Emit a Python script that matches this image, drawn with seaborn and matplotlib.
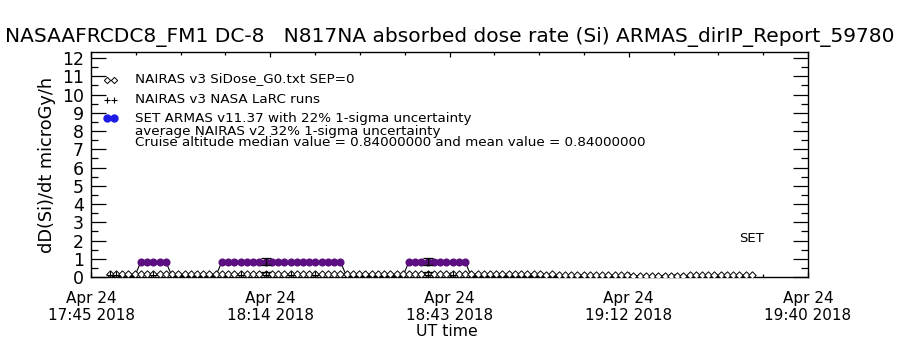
import matplotlib
matplotlib.use("Agg")
import matplotlib.pyplot as plt
import numpy as np
import pandas as pd
import seaborn as sns
from matplotlib.ticker import FixedLocator

# ---------------- data (minutes after 17:45 UT, microGy/h) ----------------
title = "NASAAFRCDC8_FM1 DC-8   N817NA absorbed dose rate (Si) ARMAS_dirIP_Report_59780"
y_label = "dD(Si)/dt microGy/h"
x_label = "UT time"
x_tick_minutes = [0, 28.75, 57.5, 86.25, 115]
x_tick_labels = ["Apr 24\n17:45 2018", "Apr 24\n18:14 2018", "Apr 24\n18:43 2018",
                 "Apr 24\n19:12 2018", "Apr 24\n19:40 2018"]
y_ticks = [0, 1, 2, 3, 4, 5, 6, 7, 8, 9, 10, 11, 12]
legend_labels = ["NAIRAS v3 SiDose_G0.txt SEP=0",
                 "NAIRAS v3 NASA LaRC runs",
                 "SET ARMAS v11.37 with 22% 1-sigma uncertainty"]
note_avg = "average NAIRAS v2 32% 1-sigma uncertainty"
note_cruise = "Cruise altitude median value = 0.84000000 and mean value = 0.84000000"
set_label = "SET"

nairas_t = list(range(3, 107))
nairas_v = [0.18, 0.18, 0.17, 0.18, 0.18, 0.17, 0.18, 0.18, 0.17, 0.18,
            0.18, 0.17, 0.18, 0.18, 0.17, 0.18, 0.18, 0.17, 0.18, 0.18,
            0.17, 0.18, 0.18, 0.17, 0.18, 0.18, 0.17, 0.18, 0.18, 0.17,
            0.18, 0.18, 0.17, 0.18, 0.18, 0.17, 0.18, 0.18, 0.17, 0.18,
            0.18, 0.17, 0.18, 0.18, 0.17, 0.18, 0.18, 0.17, 0.18, 0.18,
            0.17, 0.18, 0.18, 0.17, 0.18, 0.17, 0.17, 0.16, 0.17, 0.16,
            0.16, 0.16, 0.15, 0.16, 0.15, 0.15, 0.14, 0.15, 0.14, 0.14,
            0.13, 0.14, 0.13, 0.12, 0.13, 0.12, 0.12, 0.11, 0.12, 0.11,
            0.10, 0.10, 0.09, 0.09, 0.08, 0.08, 0.08, 0.07, 0.08, 0.07,
            0.07, 0.08, 0.08, 0.09, 0.09, 0.10, 0.10, 0.11, 0.11, 0.12,
            0.12, 0.12, 0.13, 0.12]

armas_t = list(range(3, 107))
armas_v = [0.04, 0.03, 0.03, 0.04, 0.03,
           0.84, 0.84, 0.84, 0.84, 0.84,
           0.03, 0.04, 0.03, 0.03, 0.04, 0.03, 0.03, 0.04,
           0.84, 0.84, 0.84, 0.84, 0.84, 0.84, 0.84, 0.84, 0.84, 0.84,
           0.84, 0.84, 0.84, 0.84, 0.84, 0.84, 0.84, 0.84, 0.84, 0.84,
           0.03, 0.04, 0.03, 0.03, 0.04, 0.03, 0.03, 0.04, 0.03, 0.03,
           0.84, 0.84, 0.84, 0.84, 0.84, 0.84, 0.84, 0.84, 0.84, 0.84,
           0.03, 0.04, 0.03, 0.03, 0.04, 0.03, 0.03, 0.04, 0.03, 0.03,
           0.04, 0.03, 0.03, 0.04, 0.03, 0.03, 0.04, 0.03, 0.03, 0.04,
           0.03, 0.03, 0.04, 0.03, 0.03, 0.04, 0.03, 0.03, 0.04, 0.03,
           0.03, 0.04, 0.03, 0.03, 0.04, 0.03, 0.03, 0.04, 0.03, 0.03,
           0.04, 0.03, 0.03, 0.04, 0.03, 0.03]

larc_t = [3, 4, 10, 24, 28, 32, 36, 54, 58]
larc_v = [0.12, 0.10, 0.10, 0.10, 0.10, 0.10, 0.10, 0.10, 0.10]

err_t = [28, 54]
armas_avg = [0.84, 0.84]
armas_err = [0.19, 0.19]
nairas_avg = [0.14, 0.14]
nairas_err = [0.12, 0.12]

# ---------------- figure ----------------
sns.set_style("ticks")
plt.rcParams["font.family"] = ["DejaVu Sans"]
for k in ["text.color", "axes.labelcolor", "xtick.color", "ytick.color", "axes.edgecolor"]:
    plt.rcParams[k] = "black"
W, H = 900, 350
fig = plt.figure(figsize=(9, 3.5), dpi=100)
ax = fig.add_axes([91 / W, (H - 277) / H, (808 - 91) / W, (277 - 52) / H])

def P(x, y):
    return x / W, 1 - y / H

nairas = pd.DataFrame({"t": nairas_t, "v": nairas_v})
armas = pd.DataFrame({"t": armas_t, "v": armas_v})
larc = pd.DataFrame({"t": larc_t, "v": larc_v})
purple = "#5c0f80"
low = armas[armas.v < 0.5].copy()
low["seg"] = low.index.to_series().diff().ne(1).cumsum()

sns.lineplot(data=armas, x="t", y="v", ax=ax, color="black", lw=0.8, estimator=None)
sns.lineplot(data=low, x="t", y="v", units="seg", ax=ax, color="black", lw=1.8,
             estimator=None)
sns.scatterplot(data=low, x="t", y="v", ax=ax, color="black", s=6, marker="s", linewidth=0)
sns.scatterplot(data=nairas, x="t", y="v", ax=ax, marker="D", s=14, facecolor="white",
                edgecolor="black", linewidth=0.7, zorder=4)
sns.scatterplot(data=larc, x="t", y="v", ax=ax, marker="+", s=28, color="black",
                linewidth=0.8, zorder=5)
sns.scatterplot(data=armas[armas.v >= 0.5], x="t", y="v", ax=ax, color=purple, s=34,
                linewidth=0, zorder=6)
ax.errorbar(err_t, armas_avg, yerr=armas_err, fmt="none", ecolor="black", elinewidth=0.9,
            capsize=3.5, capthick=0.9, zorder=7)
ax.errorbar(err_t, nairas_avg, yerr=nairas_err, fmt="none", ecolor="black", elinewidth=0.9,
            capsize=3.5, capthick=0.9, zorder=7)

ax.set_xlim(x_tick_minutes[0], x_tick_minutes[-1])
ax.set_ylim(0, 12.33)
ax.set_xlabel("")
ax.set_ylabel("")
ax.set_xticks(x_tick_minutes)
ax.set_xticklabels(x_tick_labels)
minor_x = [x_tick_minutes[0] + i * (x_tick_minutes[1] - x_tick_minutes[0]) / 4 for i in range(17)]
ax.xaxis.set_minor_locator(FixedLocator(minor_x))
ax.set_yticks(y_ticks)
ax.yaxis.set_minor_locator(FixedLocator([v + 0.5 for v in y_ticks[:-1]]))
for s in ax.spines.values():
    s.set_visible(True)
    s.set_linewidth(1.0)
    s.set_color("black")
ax.tick_params(axis="y", which="major", direction="in", length=10.5, width=0.9,
               left=True, right=True, labelsize=12.5, pad=5)
ax.tick_params(axis="y", which="minor", direction="in", length=5, width=0.9,
               left=True, right=True)
ax.tick_params(axis="x", which="major", direction="in", length=3.5, width=0.9,
               top=True, bottom=True, labelsize=11, pad=10)
ax.tick_params(axis="x", which="minor", direction="in", length=2.5, width=0.9,
               top=True, bottom=True)
for lab in ax.get_xticklabels():
    lab.set_linespacing(1.15)

t_title = fig.text(*P(450, 37), title, ha="center", va="center", fontsize=14)
t_ylab = fig.text(*P(47, 165), y_label, ha="center", va="center", rotation=90, fontsize=12)
t_xlab = fig.text(*P(447, 331), x_label, ha="center", va="center", fontsize=11)
t_set = fig.text(*P(752, 238), set_label, ha="center", va="center", fontsize=9)

leg_fs = 9
legend_y = [79, 99, 118]
texts = []
for lab, yy in zip(legend_labels, legend_y):
    texts.append(fig.text(*P(135, yy), lab, ha="left", va="center", fontsize=leg_fs))
texts.append(fig.text(*P(135, 131), note_avg, ha="left", va="center", fontsize=leg_fs))
t_cruise = fig.text(*P(135, 142), note_cruise, ha="left", va="center", fontsize=leg_fs)
texts.append(t_cruise)

# legend symbols
fx = [P(107, 0)[0], P(114, 0)[0]]
fig.lines.append(plt.Line2D(fx, [P(0, 80)[1]] * 2, transform=fig.transFigure, ls="none",
                            marker="D", ms=3.2, mfc="white", mec="black", mew=0.7))
fig.lines.append(plt.Line2D(fx, [P(0, 100)[1]] * 2, transform=fig.transFigure, ls="none",
                            marker="+", ms=5, mec="black", mew=0.8))
fig.lines.append(plt.Line2D(fx, [P(0, 118)[1]] * 2, transform=fig.transFigure, ls="none",
                            marker="o", ms=5, mfc="#1c1ce6", mec="#1c1ce6"))

# size texts to the reference widths
fig.canvas.draw()
r = fig.canvas.get_renderer()

def fit_width(t, target):
    w = t.get_window_extent(r).width
    t.set_fontsize(t.get_fontsize() * target / w)

fit_width(t_title, 890)
fit_width(t_cruise, 513)
for t in texts:
    t.set_fontsize(t_cruise.get_fontsize())
h = t_ylab.get_window_extent(r).height
t_ylab.set_fontsize(t_ylab.get_fontsize() * 175 / h)
fit_width(t_xlab, 62)
fit_width(t_set, 25)

fig.savefig("out.png", dpi=100)
